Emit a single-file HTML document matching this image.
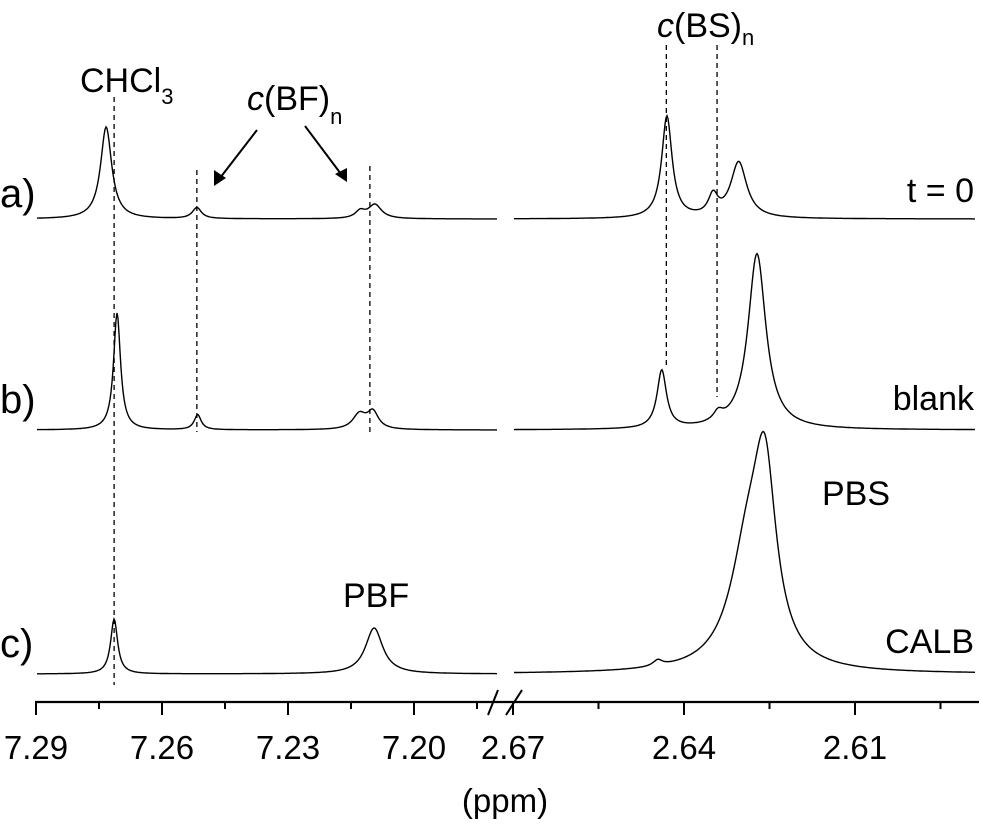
<!DOCTYPE html>
<html><head><meta charset="utf-8"><style>
html,body{margin:0;padding:0;background:#fff;}
svg{display:block;font-family:"Liberation Sans",Arial,sans-serif;}
</style></head><body>
<svg id="chart" width="981" height="824" viewBox="0 0 981 824" xmlns="http://www.w3.org/2000/svg">
<g id="plot"></g>
<g font-size="34" fill="#000">
<text x="0" y="207" font-size="40">a)</text>
<text x="0" y="413" font-size="40">b)</text>
<text x="0" y="657" font-size="40">c)</text>
<text x="974" y="202" text-anchor="end">t = 0</text>
<text x="974" y="410" text-anchor="end">blank</text>
<text x="974" y="653" text-anchor="end">CALB</text>
<text x="822" y="505">PBS</text>
<text x="343" y="607">PBF</text>
<text x="80" y="92">CHCl<tspan font-size="22" dy="12">3</tspan></text>
<text x="247" y="110"><tspan font-style="italic">c</tspan>(BF)<tspan font-size="22" dy="14">n</tspan></text>
<text x="657" y="37"><tspan font-style="italic">c</tspan>(BS)<tspan font-size="22" dy="8">n</tspan></text>
<text x="505" y="812" text-anchor="middle" font-size="33">(ppm)</text>
</g>
<g stroke="#000" stroke-width="2" fill="#000">
<line x1="257" y1="130" x2="220" y2="178"/>
<polygon points="214,186 214,170 226,178" stroke="none"/>
<line x1="305" y1="126" x2="341" y2="174"/>
<polygon points="347,182 335,174 347,168" stroke="none"/>
</g>
</svg>
<script>
// ---- data ----
const spectra = ['a', 'b', 'c'];
const leftPeakPpm = [[7.2733, 7.2517, 7.2128, 7.2093], [7.2707, 7.2515, 7.2130, 7.2098], [7.2714, 7.2095]];
const leftPeakHeight = [[92, 11, 7, 14], [117, 15, 15, 17], [55, 46]];
const leftPeakWidth = [[0.0016, 0.0013, 0.0014, 0.0019], [0.0010, 0.0010, 0.0019, 0.0016], [0.0010, 0.0025]];
const rightPeakPpm = [[2.6430, 2.6349, 2.6304], [2.6439, 2.6340, 2.6272], [2.6446, 2.6288, 2.6258]];
const rightPeakHeight = [[102, 20, 56], [58, 9, 176], [6, 110, 172]];
const rightPeakWidth = [[0.0011, 0.0010, 0.0017], [0.0010, 0.0010, 0.0019], [0.0010, 0.0038, 0.0024]];
const baselineY = [219, 430, 674];
const leftTicks = [7.29, 7.26, 7.23, 7.20];
const rightTicks = [2.67, 2.64, 2.61];
const leftTickLabels = ['7.29', '7.26', '7.23', '7.20'];
const rightTickLabels = ['2.67', '2.64', '2.61'];
const guidePpmLeft = [7.2714, 7.2517, 7.2105];
const guidePpmRight = [2.6431, 2.6342];

// ---- axis functions ----
const xL = p => 36 + (7.29 - p) * 4200;
const xR = p => 513 + (2.67 - p) * 5700;
const pL = x => 7.29 - (x - 36) / 4200;
const pR = x => 2.67 - (x - 513) / 5700;

const NS = 'http://www.w3.org/2000/svg';
const plot = document.getElementById('plot');
function mk(tag, attrs) { const e = document.createElementNS(NS, tag); for (const k in attrs) e.setAttribute(k, attrs[k]); return e; }
function lor(p, pos, h, w) { let s = 0; for (let i = 0; i < pos.length; i++) { const d = (p - pos[i]) / w[i]; s += h[i] / (1 + d * d); } return s; }

spectra.forEach((s, i) => {
  let d = '';
  for (let x = 37; x <= 497; x++) {
    const y = baselineY[i] - lor(pL(x), leftPeakPpm[i], leftPeakHeight[i], leftPeakWidth[i]);
    d += (x === 37 ? 'M' : 'L') + x + ',' + y.toFixed(1);
  }
  const pl = mk('path', { d: d, fill: 'none', stroke: '#000', 'stroke-width': 1.4 });
  
  
  plot.appendChild(pl);
  d = '';
  for (let x = 514; x <= 975; x++) {
    const y = baselineY[i] - lor(pR(x), rightPeakPpm[i], rightPeakHeight[i], rightPeakWidth[i]);
    d += (x === 514 ? 'M' : 'L') + x + ',' + y.toFixed(1);
  }
  const pr = mk('path', { d: d, fill: 'none', stroke: '#000', 'stroke-width': 1.4 });
  
  
  plot.appendChild(pr);
});

// guide dashed lines
const guideSpanL = [[97, 685], [170, 432], [166, 432]];
guidePpmLeft.forEach((p, i) => {
  const l = mk('line', { x1: xL(p), x2: xL(p), y1: guideSpanL[i][0], y2: guideSpanL[i][1], stroke: '#000', 'stroke-width': 1.3, 'stroke-dasharray': '5,4' });
  
  
  plot.appendChild(l);
});
const guideSpanR = [[45, 367], [45, 397]];
guidePpmRight.forEach((p, i) => {
  const l = mk('line', { x1: xR(p), x2: xR(p), y1: guideSpanR[i][0], y2: guideSpanR[i][1], stroke: '#000', 'stroke-width': 1.3, 'stroke-dasharray': '5,4' });
  
  
  plot.appendChild(l);
});

// x axis
const ax = mk('line', { x1: 35, x2: 979, y1: 702, y2: 702, stroke: '#000', 'stroke-width': 2.2 });


plot.appendChild(ax);
[[488, 715, 498, 690], [506, 715, 522, 690]].forEach(c => {
  const br = mk('line', { x1: c[0], y1: c[1], x2: c[2], y2: c[3], stroke: '#000', 'stroke-width': 2 });
  
  
  plot.appendChild(br);
});
function tick(x, len, name) {
  const t = mk('line', { x1: x, x2: x, y1: 702, y2: 702 + len, stroke: '#000', 'stroke-width': 2 });
  
  
  plot.appendChild(t);
}
function lab(x, txt) {
  const t = mk('text', { x: x, y: 759, 'text-anchor': 'middle', 'font-size': 33 });
  t.textContent = txt;
  
  
  plot.appendChild(t);
}
leftTicks.forEach((p, i) => {
  tick(xL(p), 13, 'x-tick-major');
  lab(xL(p), leftTickLabels[i]);
  tick(xL(p - 0.015), 7, 'x-tick-minor');
});
rightTicks.forEach((p, i) => {
  tick(xR(p), 13, 'x-tick-major');
  lab(xR(p), rightTickLabels[i]);
  tick(xR(p - 0.015), 7, 'x-tick-minor');
});
</script>
</body></html>
